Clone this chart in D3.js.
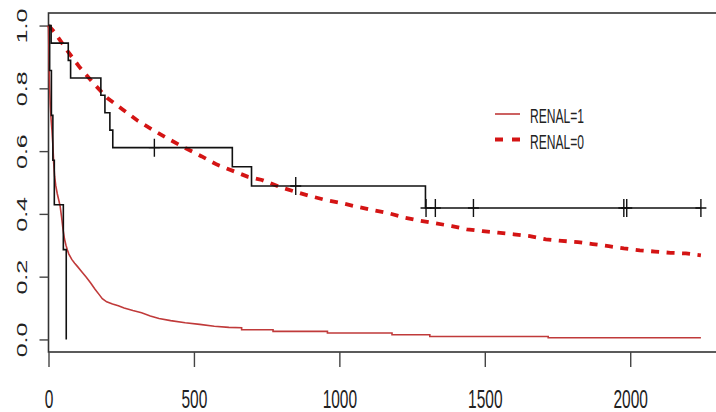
<!DOCTYPE html>
<html>
<head>
<meta charset="utf-8">
<script src="https://cdn.jsdelivr.net/npm/d3@7"></script>
<style>
  body { margin: 0; background: #fff; }
  svg { display: block; font-family: "Liberation Sans", Arial, sans-serif; }
</style>
</head>
<body>
<div id="plot"></div>
<script>
const width = 716
const height = 412
const margin = ({top: 13, right: -11, bottom: 60, left: 48.5})
const sx = 0.62  // the picture is squeezed sideways, text is too

// black KM curve, small group (no censoring)
const kmA_time = [0, 4, 10, 15, 20, 51, 61]
const kmA_surv = [1, 0.857, 0.714, 0.571, 0.429, 0.286, 0]

// black KM curve with censor marks
const kmB_time = [0, 9, 68, 76, 180, 194, 211, 221, 632, 698, 1296, 2243]
const kmB_surv = [1, 0.944, 0.889, 0.833, 0.778, 0.722, 0.667, 0.611, 0.55, 0.489, 0.419, 0.419]
const censB_time = [364, 850, 1298, 1330, 1461, 1978, 1988, 2243]

// fitted curve RENAL=1 (solid red), repeated times are the visible steps
const ren1_time = [0, 2, 4, 6, 9, 12, 15, 18, 21, 25, 30, 35, 40, 45, 50, 55, 60, 65, 70, 80, 90, 100, 115, 130, 145, 160, 175, 185, 200, 220, 240, 260, 290, 320, 350, 380, 420, 470, 520, 570, 620, 664, 664, 772, 772, 959, 959, 1181, 1181, 1311, 1311, 1718, 1718, 2243]
const ren1_surv = [1, 0.88, 0.8, 0.75, 0.7, 0.665, 0.62, 0.56, 0.52, 0.49, 0.465, 0.445, 0.425, 0.39, 0.35, 0.32, 0.3, 0.285, 0.272, 0.255, 0.243, 0.232, 0.215, 0.198, 0.18, 0.16, 0.142, 0.13, 0.12, 0.113, 0.107, 0.1, 0.092, 0.085, 0.075, 0.067, 0.06, 0.053, 0.048, 0.042, 0.0385, 0.0374, 0.031, 0.031, 0.0256, 0.0256, 0.0204, 0.0204, 0.015, 0.015, 0.0096, 0.0096, 0.0054, 0.0054]

// fitted curve RENAL=0 (dashed red)
const ren0_time = [0, 19, 67, 108, 153, 201, 256, 308, 363, 418, 472, 527, 579, 634, 686, 734, 792, 847, 899, 954, 1009, 1060, 1115, 1170, 1225, 1280, 1331, 1387, 1438, 1493, 1545, 1600, 1655, 1710, 1765, 1820, 1871, 1926, 1978, 2033, 2085, 2139, 2191, 2243]
const ren0_surv = [1, 0.981, 0.917, 0.866, 0.818, 0.77, 0.732, 0.696, 0.665, 0.636, 0.609, 0.583, 0.557, 0.537, 0.518, 0.508, 0.487, 0.471, 0.457, 0.444, 0.434, 0.423, 0.412, 0.402, 0.388, 0.378, 0.37, 0.361, 0.351, 0.345, 0.34, 0.335, 0.329, 0.319, 0.314, 0.31, 0.304, 0.297, 0.29, 0.284, 0.28, 0.276, 0.274, 0.268]

const legend_labels = ["RENAL=1", "RENAL=0"]
const x_ticks = [0, 500, 1000, 1500, 2000]
const y_ticks = [0, 0.2, 0.4, 0.6, 0.8, 1.0]

const zip = (t, s) => t.map((d, i) => ({t: d, s: s[i]}))

x = d3.scaleLinear()
  .domain([0, 2243 * 1.04])
  .range([margin.left, width - margin.right])

y = d3.scaleLinear()
  .domain([-0.04, 1.04])
  .range([height - margin.bottom, margin.top])

const svg = d3.select("#plot")
  .append("svg")
  .attr("width", width)
  .attr("height", height)

// box
svg.append("rect")
  .attr("x", x(0))
  .attr("y", y(1.04))
  .attr("width", x.range()[1] - x(0))
  .attr("height", y(-0.04) - y(1.04))
  .attr("fill", "none")
  .attr("stroke", "#333")
  .attr("stroke-width", 1.6)

xAxis = g => g
  .attr("transform", `translate(0,${y(-0.04)})`)
  .call(d3.axisBottom(x).tickValues(x_ticks).tickFormat(d3.format("d")).tickSize(15).tickSizeOuter(0))
  .call(g => g.select(".domain").remove())
  .call(g => g.selectAll(".tick line").attr("stroke", "#444").attr("stroke-width", 1.4))
  .call(g => g.selectAll(".tick text")
    .attr("y", null).attr("dy", null)
    .attr("transform", `translate(0,56) scale(${sx},1)`)
    .attr("font-size", 25)
    .attr("fill", "#222"))

yAxis = g => g
  .attr("transform", `translate(${x(0)},0)`)
  .call(d3.axisLeft(y).tickValues(y_ticks).tickFormat(d3.format(".1f")).tickSize(9).tickSizeOuter(0))
  .call(g => g.select(".domain").remove())
  .call(g => g.selectAll(".tick line").attr("stroke", "#444").attr("stroke-width", 1.4))
  .call(g => g.selectAll(".tick text")
    .attr("x", null).attr("dy", null)
    .attr("text-anchor", "middle")
    .attr("transform", `translate(-22,0) scale(${sx},1) rotate(-90)`)
    .attr("font-size", 25)
    .attr("fill", "#222"))

svg.append("g").attr("class", "xaxis").call(xAxis)
svg.append("g").attr("class", "yaxis").call(yAxis)

const stepLine = d3.line().x(d => x(d.t)).y(d => y(d.s)).curve(d3.curveStepAfter)
const plainLine = d3.line().x(d => x(d.t)).y(d => y(d.s))

const plotArea = svg.append("g")

plotArea.append("path")
  .datum(zip(ren0_time, ren0_surv))
  .attr("fill", "none")
  .attr("stroke", "#d41414")
  .attr("stroke-width", 3.8)
  .attr("stroke-dasharray", "8,7.5")
  .attr("d", plainLine)

plotArea.append("path")
  .datum(zip(ren1_time, ren1_surv))
  .attr("fill", "none")
  .attr("stroke", "#c03a3a")
  .attr("stroke-width", 1.6)
  .attr("d", plainLine)

plotArea.append("path")
  .datum(zip(kmA_time, kmA_surv))
  .attr("fill", "none")
  .attr("stroke", "#111")
  .attr("stroke-width", 1.6)
  .attr("d", stepLine)

const kmB = zip(kmB_time, kmB_surv)
plotArea.append("path")
  .datum(kmB)
  .attr("fill", "none")
  .attr("stroke", "#111")
  .attr("stroke-width", 1.6)
  .attr("d", stepLine)

// censor marks, value of the curve at that time
const survAt = t => kmB_surv[d3.bisectRight(kmB_time, t) - 1]
plotArea.selectAll(".cens")
  .data(censB_time)
  .join("path")
  .attr("class", "cens")
  .attr("fill", "none")
  .attr("stroke", "#111")
  .attr("stroke-width", 1.4)
  .attr("d", t => {
    const cx = x(t), cy = y(survAt(t))
    return `M${cx},${cy - 9}V${cy + 9}M${cx - 5.5},${cy}H${cx + 5.5}`
  })

// legend
const legend = svg.append("g")
  .attr("transform", "translate(495,114)")

legend.selectAll("line")
  .data(legend_labels)
  .join("line")
  .attr("x1", 0)
  .attr("x2", 25)
  .attr("y1", (d, i) => i * 25.5)
  .attr("y2", (d, i) => i * 25.5)
  .attr("stroke", (d, i) => i ? "#d41414" : "#c03a3a")
  .attr("stroke-width", (d, i) => i ? 3.8 : 1.6)
  .attr("stroke-dasharray", (d, i) => i ? "8,9" : null)

legend.selectAll("text")
  .data(legend_labels)
  .join("text")
  .attr("transform", (d, i) => `translate(35,${i * 25.5 + 9}) scale(${sx},1)`)
  .attr("font-size", 19.5)
  .attr("fill", "#222")
  .text(d => d)
</script>
</body>
</html>
